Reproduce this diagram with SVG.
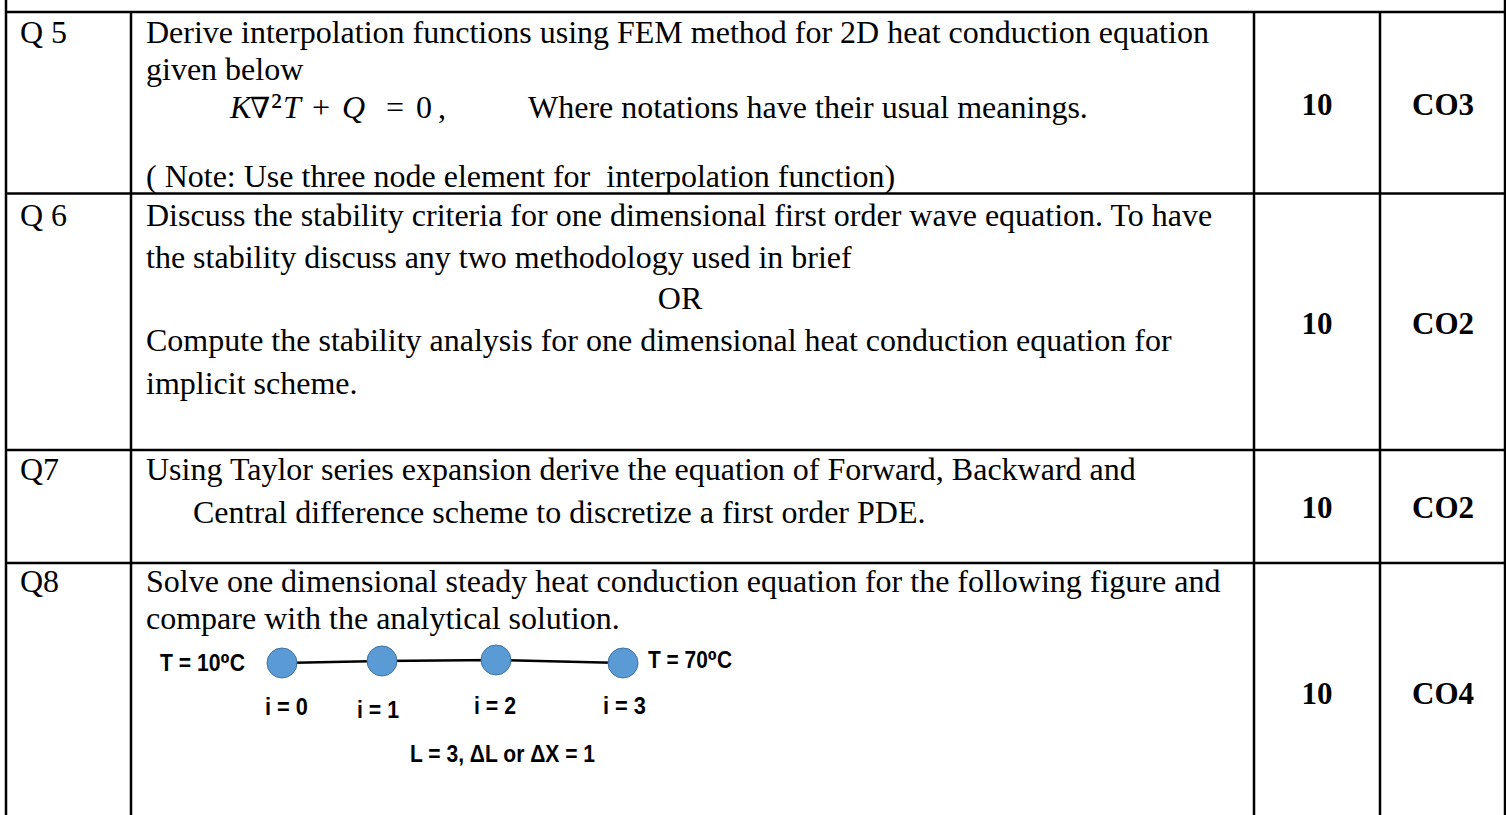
<svg xmlns="http://www.w3.org/2000/svg" width="1506" height="815" viewBox="0 0 1506 815">
<style>
.t{font-family:"Liberation Serif","Times New Roman",serif;font-size:32px;fill:#000;white-space:pre}
.b{font-family:"Liberation Serif","Times New Roman",serif;font-size:31px;font-weight:bold;fill:#000;text-anchor:middle}
.m{font-family:"Liberation Serif","DejaVu Serif",serif;font-size:32px;fill:#000}
.mi{font-style:italic}
.f{font-family:"Liberation Sans","DejaVu Sans",Arial,sans-serif;font-size:23px;font-weight:bold;fill:#000}
.grid line{stroke:#000;stroke-width:2.5}
.node{fill:#5B9BD5;stroke:#41719C;stroke-width:1}
.conn{fill:none;stroke:#000;stroke-width:2.5}
</style>
<rect width="1506" height="815" fill="#fff"/>
<g id="grid" class="grid">
<line x1="6" y1="0" x2="6" y2="815"/>
<line x1="1505" y1="0" x2="1505" y2="815"/>
<line x1="131" y1="12" x2="131" y2="815"/>
<line x1="1254" y1="12" x2="1254" y2="815"/>
<line x1="1380" y1="12" x2="1380" y2="815"/>
<line x1="6" y1="12" x2="1505" y2="12"/>
<line x1="6" y1="193.5" x2="1505" y2="193.5"/>
<line x1="6" y1="450" x2="1505" y2="450"/>
<line x1="6" y1="563" x2="1505" y2="563"/>
</g>
<g id="row-q5">
<text class="t" x="20" y="43">Q 5</text>
<text class="t" x="146" y="43">Derive interpolation functions using FEM method for 2D heat conduction equation</text>
<text class="t" x="146" y="80">given below</text>
<text class="m" y="118"><tspan class="mi" x="230">K</tspan><tspan x="250" font-family="DejaVu Serif" font-size="29">∇</tspan><tspan x="271" font-size="36">²</tspan><tspan class="mi" x="283">T</tspan><tspan x="312">+</tspan><tspan class="mi" x="342">Q</tspan><tspan x="386">=</tspan><tspan x="416">0</tspan><tspan x="438">,</tspan></text>
<text class="t" x="528" y="118">Where notations have their usual meanings.</text>
<text class="t" x="146" y="187">( Note: Use three node element for  interpolation function)</text>
<text class="b" x="1317" y="115">10</text>
<text class="b" x="1443" y="115">CO3</text>
</g>
<g id="row-q6">
<text class="t" x="20" y="226">Q 6</text>
<text class="t" x="146" y="226">Discuss the stability criteria for one dimensional first order wave equation. To have</text>
<text class="t" x="146" y="268">the stability discuss any two methodology used in brief</text>
<text class="t" x="680" y="309" text-anchor="middle">OR</text>
<text class="t" x="146" y="351">Compute the stability analysis for one dimensional heat conduction equation for</text>
<text class="t" x="146" y="394">implicit scheme.</text>
<text class="b" x="1317" y="334">10</text>
<text class="b" x="1443" y="334">CO2</text>
</g>
<g id="row-q7">
<text class="t" x="20" y="480">Q7</text>
<text class="t" x="146" y="480">Using Taylor series expansion derive the equation of Forward, Backward and</text>
<text class="t" x="193" y="523">Central difference scheme to discretize a first order PDE.</text>
<text class="b" x="1317" y="518">10</text>
<text class="b" x="1443" y="518">CO2</text>
</g>
<g id="row-q8">
<text class="t" x="20" y="592">Q8</text>
<text class="t" x="146" y="592">Solve one dimensional steady heat conduction equation for the following figure and</text>
<text class="t" x="146" y="629">compare with the analytical solution.</text>
<text class="b" x="1317" y="704">10</text>
<text class="b" x="1443" y="704">CO4</text>
</g>
<g id="connectors">
<polyline class="conn" points="282,663 382,661 496,660 623,663"/>
</g>
<g id="node-i0"><circle class="node" cx="282" cy="663" r="15"/><text class="f" x="265" y="715" textLength="43" lengthAdjust="spacingAndGlyphs">i = 0</text></g>
<g id="node-i1"><circle class="node" cx="382" cy="661" r="15"/><text class="f" x="357" y="718" textLength="42" lengthAdjust="spacingAndGlyphs">i = 1</text></g>
<g id="node-i2"><circle class="node" cx="496" cy="660" r="15"/><text class="f" x="474" y="714" textLength="42" lengthAdjust="spacingAndGlyphs">i = 2</text></g>
<g id="node-i3"><circle class="node" cx="623" cy="663" r="15"/><text class="f" x="603" y="714" textLength="43" lengthAdjust="spacingAndGlyphs">i = 3</text></g>
<g id="labels">
<text class="f" x="160" y="671" textLength="85" lengthAdjust="spacingAndGlyphs">T = 10⁰C</text>
<text class="f" x="648" y="668" textLength="84" lengthAdjust="spacingAndGlyphs">T = 70⁰C</text>
<text class="f" x="410" y="762" textLength="185" lengthAdjust="spacingAndGlyphs">L = 3, ΔL or ΔX = 1</text>
</g>
</svg>
